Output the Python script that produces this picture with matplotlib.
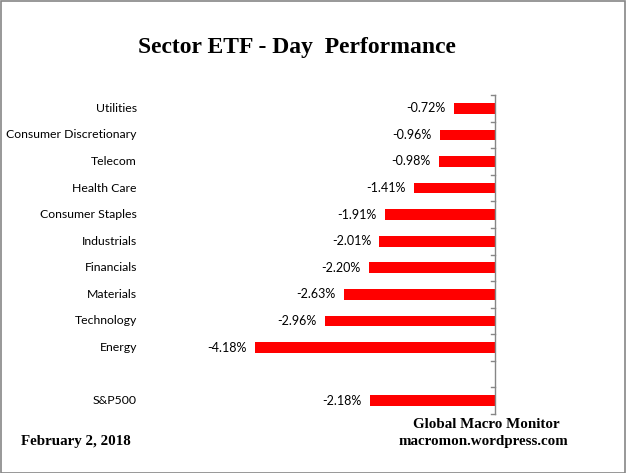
import numpy as np
import matplotlib.pyplot as plt
from matplotlib.patches import Rectangle

sectors = ["Utilities", "Consumer Discretionary", "Telecom", "Health Care",
           "Consumer Staples", "Industrials", "Financials", "Materials",
           "Technology", "Energy", "", "S&P500"]
changes = [-0.72, -0.96, -0.98, -1.41, -1.91, -2.01, -2.20, -2.63,
           -2.96, -4.18, np.nan, -2.18]

W, H = 626, 473
fig = plt.figure(figsize = (W / 100, H / 100), dpi = 100)

# plot area in pixels: x 140..495, y 95..414 (from top)
ax = fig.add_axes([140 / W, (H - 414) / H, 355 / W, 319 / H])

pos = np.arange(len(sectors))
vals = np.array(changes)
mask = ~np.isnan(vals)
ax.barh(pos[mask], vals[mask], height = 0.4, color = "#ff0000", zorder = 2)

ax.set_xlim(-355 / 57.5, 0)
ax.set_ylim(len(sectors) - 0.5, -0.5)

for side in ["top", "bottom", "left"]:
    ax.spines[side].set_visible(False)
ax.spines["right"].set_color("#868686")
ax.spines["right"].set_linewidth(1.0)
ax.set_xticks([])
ax.set_yticks([])

# little tick marks on the value axis between categories
for b in np.arange(-0.5, len(sectors), 1.0):
    ax.plot([1 - 4 / 355, 1], [b, b], transform = ax.get_yaxis_transform(),
            color = "#868686", lw = 1.0, clip_on = False)

label_font = "Lato"
for p, name, v in zip(pos, sectors, vals):
    if name:
        ax.text(-3 / 355, p, name, transform = ax.get_yaxis_transform(),
                ha = "right", va = "center", fontsize = 8.8, family = label_font)
    if not np.isnan(v):
        ax.annotate(f"{v:.2f}%", (v, p), xytext = (-6, 0), textcoords = "offset points",
                    ha = "right", va = "center", fontsize = 9, family = label_font)

serif = "Liberation Serif"
fig.text(297 / W, 1 - 47 / H, "Sector ETF - Day  Performance", ha = "center", va = "center",
         fontsize = 17, fontweight = "bold", family = serif)
fig.text(21 / W, 1 - 441 / H, "February 2, 2018", ha = "left", va = "center",
         fontsize = 10.8, fontweight = "bold", family = serif)
fig.text(486 / W, 1 - 424 / H, "Global Macro Monitor", ha = "center", va = "center",
         fontsize = 10.8, fontweight = "bold", family = serif)
fig.text(483 / W, 1 - 441 / H, "macromon.wordpress.com", ha = "center", va = "center",
         fontsize = 10.8, fontweight = "bold", family = serif)

fig.patches.append(Rectangle((0.5 / W, 0.5 / H), 1 - 1.5 / W, 1 - 1.5 / H,
                             transform = fig.transFigure, fill = False,
                             edgecolor = "#868686", lw = 1.2))

fig.savefig("out.png", dpi = 100)
